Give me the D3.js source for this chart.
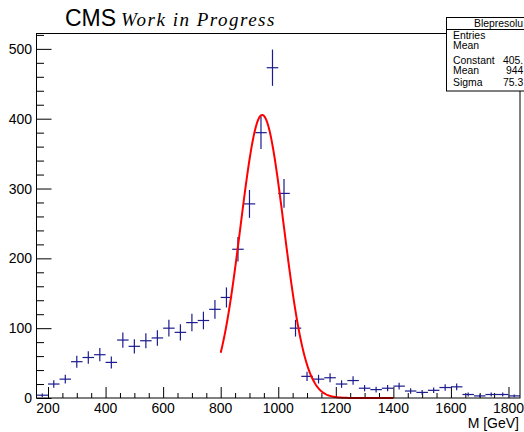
<!DOCTYPE html>
<html>
<head>
<meta charset="utf-8">
<script src="https://cdn.jsdelivr.net/npm/d3@7"></script>
<style>
  body { margin: 0; background: #fff; }
  svg { display: block; font-family: "Liberation Sans", Arial, sans-serif; }
</style>
</head>
<body>
<div id="chart"></div>
<script>
// histogram: 40 GeV bins from 160 to 1840
const binLow = [160,200,240,280,320,360,400,440,480,520,560,600,640,680,720,760,800,840,880,920,960,1000,1040,1080,1120,1160,1200,1240,1280,1320,1360,1400,1440,1480,1520,1560,1600,1640,1680,1720,1760,1800];
const binHigh = [200,240,280,320,360,400,440,480,520,560,600,640,680,720,760,800,840,880,920,960,1000,1040,1080,1120,1160,1200,1240,1280,1320,1360,1400,1440,1480,1520,1560,1600,1640,1680,1720,1760,1800,1840];
const counts = [4,20,27,52,58,62,51,83,74,82,86,100,94,108,111,127,144,213,278,380,473,293,100,31,27,29,20,25,14,12,14,17,10,8,11,15,16,5,3,5,5,3];
const errors = [2.4,5.4,6.2,8.6,9.1,9.5,8.6,10.9,10.3,10.9,11.1,12,11.6,12.5,12.6,13.5,14.4,17.5,20,23.4,26,20.5,12,6.7,6.2,6.5,5.4,6,4.5,4.2,4.5,4.9,3.8,3.4,4,4.6,4.8,2.7,2.1,2.7,2.7,2.1];

// gaussian fit (from stats box)
const fitConstant = 405.3, fitMean = 944.2, fitSigma = 75.34;
const fitRange = [800, 1400];

const xTicks = [200,400,600,800,1000,1200,1400,1600,1800];
const yTicks = [0,100,200,300,400,500];
// stats box, only the part that shows inside the page
const statTitle = "Blepresolu";
const statRows = ["Entries", "Mean", "Constant", "Mean", "Sigma"];
const statValues = ["", "", "405.", "944", "75.3"];

const W = 524, H = 432;
const frame = {left: 36.5, right: 520, top: 33.5, bottom: 398};

const svg = d3.select("#chart").append("svg")
    .attr("width", W).attr("height", H);

const x = d3.scaleLinear().domain([160, 1840]).range([frame.left, frame.right]);
const y = d3.scaleLinear().domain([0, 522]).range([frame.bottom, frame.top]);

// axes (ROOT style ticks pointing inward)
const xAxis = svg.append("g")
  .attr("transform", `translate(0,${frame.bottom})`)
  .call(d3.axisTop(x).tickValues(d3.range(200, 1841, 50)).tickSize(5).tickFormat(""));
xAxis.select(".domain").remove();
xAxis.selectAll(".tick line").attr("stroke", "#000")
  .filter(d => d % 200 === 0).attr("y2", -11);

const yAxis = svg.append("g")
  .attr("transform", `translate(${frame.left},0)`)
  .call(d3.axisRight(y).tickValues(d3.range(0, 521, 20)).tickSize(7.5).tickFormat(""));
yAxis.select(".domain").remove();
yAxis.selectAll(".tick line").attr("stroke", "#000")
  .filter(d => d % 100 === 0).attr("x2", 15);

// tick labels
svg.append("g").selectAll("text")
  .data(xTicks).join("text")
    .attr("x", d => x(d))
    .attr("y", 413)
    .attr("text-anchor", "middle")
    .attr("font-size", 14)
    .text(d => d);
svg.append("g").selectAll("text")
  .data(yTicks).join("text")
    .attr("x", 32)
    .attr("y", d => y(d) + 5)
    .attr("text-anchor", "end")
    .attr("font-size", 14)
    .text(d => d);

svg.append("text")
  .attr("x", 519).attr("y", 428)
  .attr("text-anchor", "end")
  .attr("font-size", 14)
  .text("M [GeV]");

// data points with error bars
const pts = svg.append("g").attr("stroke", "#1c1c8e").attr("stroke-width", 1.2);
counts.forEach((c, i) => {
  const xc = x((binLow[i] + binHigh[i]) / 2);
  pts.append("line")
    .attr("x1", x(binLow[i])).attr("x2", x(binHigh[i]))
    .attr("y1", y(c)).attr("y2", y(c));
  pts.append("line")
    .attr("x1", xc).attr("x2", xc)
    .attr("y1", y(c - errors[i])).attr("y2", y(c + errors[i]));
});

// fit curve
const gaus = m => fitConstant * Math.exp(-0.5 * Math.pow((m - fitMean) / fitSigma, 2));
const fitLine = d3.line().x(d => x(d)).y(d => y(gaus(d)));
svg.append("path")
  .datum(d3.range(fitRange[0], fitRange[1] + 1, 2))
  .attr("d", fitLine)
  .attr("fill", "none")
  .attr("stroke", "#f00")
  .attr("stroke-width", 2);

// frame
svg.append("rect")
  .attr("x", frame.left).attr("y", frame.top)
  .attr("width", frame.right - frame.left)
  .attr("height", frame.bottom - frame.top)
  .attr("fill", "none").attr("stroke", "#000");

// title
svg.append("text")
  .attr("x", 65).attr("y", 26)
  .attr("font-size", 23)
  .text("CMS");
svg.append("text")
  .attr("x", 121).attr("y", 26)
  .attr("font-family", "'Liberation Serif', 'DejaVu Serif', serif")
  .attr("font-style", "italic")
  .attr("font-size", 19)
  .attr("letter-spacing", 1.5)
  .text("Work in Progress");

// stats box (runs off the right edge like the reference)
const stats = svg.append("g");
stats.append("rect")
  .attr("x", 446.5).attr("y", 17.5)
  .attr("width", 110).attr("height", 73.5)
  .attr("fill", "#fff").attr("stroke", "#000");
stats.append("line")
  .attr("x1", 446.5).attr("x2", 556.5)
  .attr("y1", 29.5).attr("y2", 29.5)
  .attr("stroke", "#000");
stats.append("text")
  .attr("x", 474).attr("y", 27)
  .attr("font-size", 10.4)
  .text(statTitle);
const rowY = [38.5, 49, 63.5, 74, 85.5];
stats.selectAll(".lab")
  .data(statRows).join("text")
    .attr("x", 453).attr("y", (d, i) => rowY[i])
    .attr("font-size", 10.4)
    .text(d => d);
const valX = [520, 520, 503, 506, 503];
stats.selectAll(".val")
  .data(statValues).join("text")
    .attr("x", (d, i) => valX[i]).attr("y", (d, i) => rowY[i])
    .attr("font-size", 10.4)
    .text(d => d);
</script>
</body>
</html>
